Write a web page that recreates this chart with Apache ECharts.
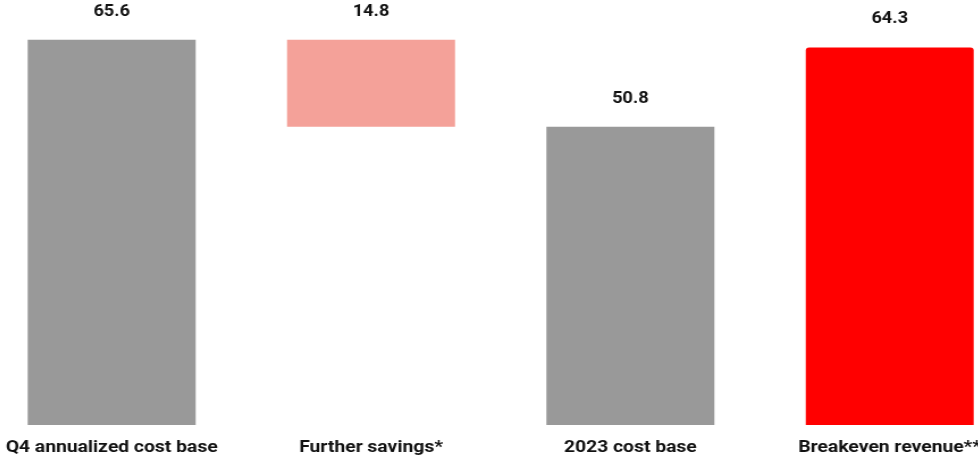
<!DOCTYPE html>
<html>
<head>
<meta charset="utf-8">
<script src="https://cdn.jsdelivr.net/npm/echarts@6/dist/echarts.min.js"></script>
<style>
html,body{margin:0;padding:0;background:#fff;overflow:hidden;width:978px;height:457px;position:relative;}
#chart{position:absolute;left:-18px;top:0;width:913.7px;height:457px;transform-origin:0 0;transform:scaleX(1.135);}
</style>
</head>
<body>
<div id="chart"></div>
<script>
var categories = ['Q4 annualized cost base', 'Further savings*', '2023 cost base', 'Breakeven revenue**'];
var values = [65.6, 14.8, 50.8, 64.3];
var bases = [0, 50.8, 0, 0];
var colors = ['#999999', '#F4A199', '#999999', '#FF0000'];

var chart = echarts.init(document.getElementById('chart'));
chart.setOption({
  animation: false,
  grid: { left: 0, right: 0, top: 14, bottom: 32, containLabel: false },
  xAxis: {
    type: 'category',
    data: categories,
    axisLine: { show: false },
    axisTick: { show: false },
    axisLabel: {
      interval: 0,
      margin: 14,
      color: '#111111',
      fontFamily: 'Roboto',
      fontWeight: 'bold',
      fontSize: 17
    }
  },
  yAxis: { type: 'value', min: 0, max: 70, show: false, splitLine: { show: false } },
  series: [
    {
      type: 'bar', stack: 'w', barWidth: 148, silent: true,
      itemStyle: { color: 'transparent' },
      data: bases
    },
    {
      type: 'bar', stack: 'w', barWidth: 148,
      data: values.map(function (v, i) {
        return {
          value: v,
          itemStyle: { color: colors[i], borderRadius: i === 3 ? [3, 3, 0, 0] : 0 }
        };
      }),
      label: {
        show: true,
        position: 'top',
        distance: 20,
        color: '#111111',
        fontFamily: 'Roboto',
        fontWeight: 'bold',
        fontSize: 16
      }
    }
  ]
});
</script>
</body>
</html>
